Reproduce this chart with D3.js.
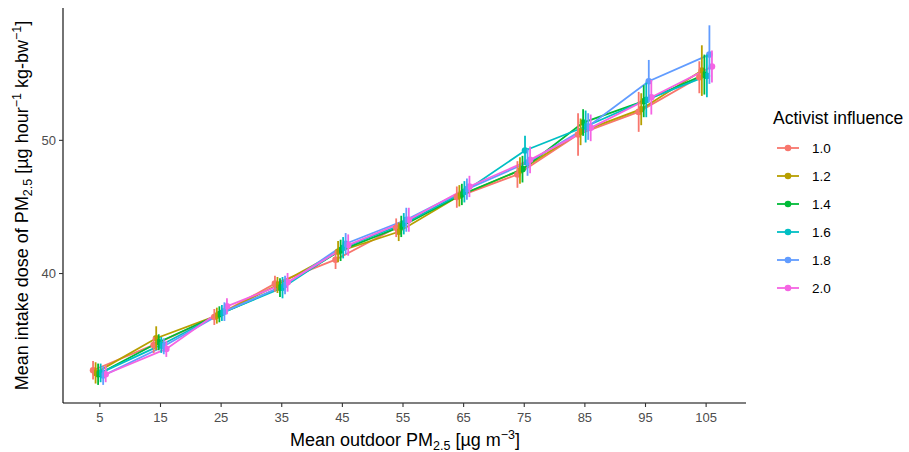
<!DOCTYPE html>
<html>
<head>
<meta charset="utf-8">
<script src="https://cdn.jsdelivr.net/npm/d3@7"></script>
<style>
  body { margin: 0; background: #fff; }
  text { font-family: "Liberation Sans", Arial, sans-serif; }
</style>
</head>
<body>
<script>
// Data
const pmLevels = ["5", "15", "25", "35", "45", "55", "65", "75", "85", "95", "105"];
const influence = ["1.0", "1.2", "1.4", "1.6", "1.8", "2.0"];
const colors = ["#F8766D", "#B79F00", "#00BA38", "#00BFC4", "#619CFF", "#F564E3"];

const dose10 = [32.7, 34.6, 36.7, 39.2, 41.0, 43.4, 45.7, 47.4, 50.4, 52.1, 54.7];
const dose12 = [32.5, 35.1, 36.8, 39.1, 41.6, 43.1, 45.8, 47.7, 50.6, 52.3, 55.2];
const dose14 = [32.4, 34.8, 36.9, 38.9, 41.7, 43.5, 45.9, 47.8, 51.3, 52.9, 54.9];
const dose16 = [32.5, 34.6, 37.0, 38.9, 41.9, 43.7, 46.1, 49.2, 51.0, 53.0, 54.8];
const dose18 = [32.3, 34.5, 37.1, 39.1, 42.2, 44.0, 46.3, 48.3, 51.0, 54.4, 56.4];
const dose20 = [32.4, 34.3, 37.5, 39.3, 42.1, 44.0, 46.5, 48.5, 50.9, 53.2, 55.5];

// half-length of the error bars
const err10 = [0.7, 0.6, 0.6, 0.6, 0.7, 0.7, 0.8, 1.0, 1.6, 1.5, 1.2];
const err12 = [0.8, 0.9, 0.6, 0.6, 0.8, 0.7, 0.8, 1.0, 1.0, 1.2, 1.9];
const err14 = [0.8, 0.6, 0.6, 0.7, 0.8, 0.8, 0.8, 1.0, 1.0, 1.2, 1.5];
const err16 = [0.7, 0.6, 0.6, 0.8, 0.8, 0.8, 0.8, 1.1, 1.2, 1.3, 1.6];
const err18 = [0.7, 0.6, 0.7, 0.7, 0.8, 0.9, 0.8, 1.0, 1.0, 1.6, 2.2];
const err20 = [0.6, 0.6, 0.6, 0.7, 0.8, 0.9, 0.8, 1.0, 1.0, 1.3, 1.2];

const yTicks = [40, 50];

const doses = [dose10, dose12, dose14, dose16, dose18, dose20];
const errs = [err10, err12, err14, err16, err18, err20];

const W = 909, H = 452;
const mLeft = 63, mRight = 742, mTop = 8, mBottom = 403;

const svg = d3.select("body").append("svg")
    .attr("width", W)
    .attr("height", H);

const x = d3.scalePoint()
    .domain(pmLevels)
    .range([mLeft, mRight])
    .padding(0.6);

const y = d3.scaleLinear()
    .domain([30.24, 59.9])
    .range([mBottom, mTop]);

// dodge offsets (position_dodge width 0.25)
const dodgeW = 0.25 * x.step();
const offset = i => (i - (influence.length - 1) / 2) * dodgeW / influence.length;

const series = influence.map((name, i) => ({
    name: name,
    color: colors[i],
    values: pmLevels.map((p, j) => ({ p: p, v: doses[i][j], e: errs[i][j], cx: x(p) + offset(i) }))
}));

const line = d3.line()
    .x(d => d.cx)
    .y(d => y(d.v));

// lines
svg.append("g")
    .selectAll("path")
    .data(series)
    .join("path")
    .attr("fill", "none")
    .attr("stroke", d => d.color)
    .attr("stroke-width", 1.8)
    .attr("d", d => line(d.values));

// points
svg.append("g")
    .selectAll("g")
    .data(series)
    .join("g")
    .attr("fill", d => d.color)
    .selectAll("circle")
    .data(d => d.values)
    .join("circle")
    .attr("cx", d => d.cx)
    .attr("cy", d => y(d.v))
    .attr("r", 3.3);

// error bars
svg.append("g")
    .selectAll("g")
    .data(series)
    .join("g")
    .attr("stroke", d => d.color)
    .attr("stroke-width", 1.8)
    .selectAll("line")
    .data(d => d.values)
    .join("line")
    .attr("x1", d => d.cx)
    .attr("x2", d => d.cx)
    .attr("y1", d => y(d.v - d.e))
    .attr("y2", d => y(d.v + d.e));

// axes
const xAxis = svg.append("g")
    .attr("transform", `translate(0,${mBottom})`)
    .call(d3.axisBottom(x).tickSize(4).tickSizeOuter(0));
const yAxis = svg.append("g")
    .attr("transform", `translate(${mLeft},0)`)
    .call(d3.axisLeft(y).tickValues(yTicks).tickSize(4).tickSizeOuter(0));

[xAxis, yAxis].forEach(a => {
    a.select(".domain").attr("stroke", "#000").attr("stroke-width", 1.1);
    a.selectAll(".tick line").attr("stroke", "#333").attr("stroke-width", 1.1);
    a.selectAll(".tick text")
        .attr("fill", "#4d4d4d")
        .style("font-size", "13px")
        .style("font-family", "'Liberation Sans', Arial, sans-serif");
});
xAxis.selectAll(".tick text").attr("dy", "0.9em");
// stretch the x axis line to the panel edge
xAxis.select(".domain").attr("d", `M${mLeft},0H${mRight + 4}`);
yAxis.select(".domain").attr("d", `M0,${mBottom}V${mTop}`);

// axis titles
const xt = svg.append("text")
    .attr("x", 405)
    .attr("y", 446)
    .attr("text-anchor", "middle")
    .style("font-size", "18px")
    .attr("fill", "#000");
xt.append("tspan").text("Mean outdoor PM");
xt.append("tspan").attr("dy", 4).style("font-size", "12.5px").text("2.5");
xt.append("tspan").attr("dy", -4).text(" [µg m");
xt.append("tspan").attr("dy", -7).style("font-size", "12.5px").text("−3");
xt.append("tspan").attr("dy", 7).text("]");

const yt = svg.append("text")
    .attr("transform", `translate(28,${(mTop + mBottom) / 2}) rotate(-90)`)
    .attr("text-anchor", "middle")
    .style("font-size", "18px")
    .attr("fill", "#000");
yt.append("tspan").text("Mean intake dose of PM");
yt.append("tspan").attr("dy", 4).style("font-size", "12.5px").text("2.5");
yt.append("tspan").attr("dy", -4).text(" [µg hour");
yt.append("tspan").attr("dy", -7).style("font-size", "12.5px").text("−1");
yt.append("tspan").attr("dy", 7).text(" kg-bw");
yt.append("tspan").attr("dy", -7).style("font-size", "12.5px").text("−1");
yt.append("tspan").attr("dy", 7).text("]");

// legend
const legend = svg.append("g").attr("transform", "translate(773,0)");
legend.append("text")
    .attr("x", 0)
    .attr("y", 124)
    .style("font-size", "17.5px")
    .attr("fill", "#000")
    .text("Activist influence");

const item = legend.selectAll("g.item")
    .data(series)
    .join("g")
    .attr("class", "item")
    .attr("transform", (d, i) => `translate(0,${148 + i * 28})`);
item.append("line")
    .attr("x1", 4).attr("x2", 26)
    .attr("stroke", d => d.color)
    .attr("stroke-width", 1.8);
item.append("circle")
    .attr("cx", 15).attr("r", 3.3)
    .attr("fill", d => d.color);
item.append("text")
    .attr("x", 39)
    .attr("dy", "0.35em")
    .style("font-size", "13.5px")
    .attr("fill", "#000")
    .text(d => d.name);
</script>
</body>
</html>
